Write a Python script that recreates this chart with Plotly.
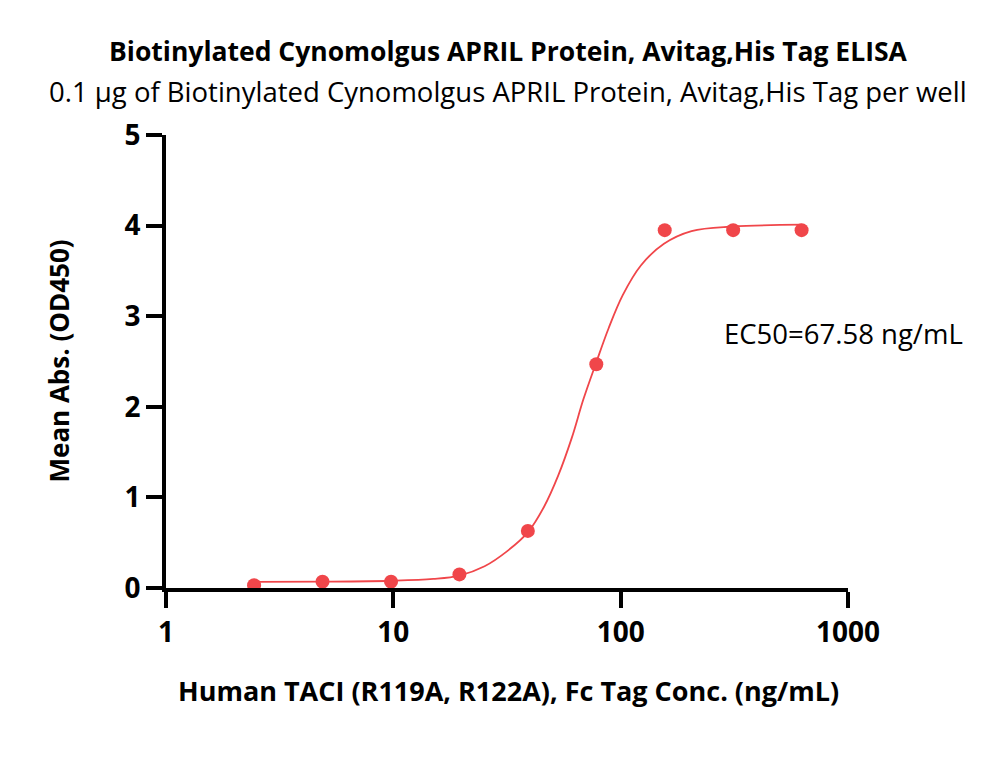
import plotly.graph_objects as go

# measured points (ng/mL, OD450)
conc = [2.44, 4.88, 9.77, 19.53, 39.06, 78.13, 156.25, 312.5, 625]
od450 = [0.03, 0.07, 0.07, 0.15, 0.63, 2.47, 3.95, 3.95, 3.95]

# fitted curve
fit_x = [2.44, 5.0, 10.0, 15.0, 19.5, 25.2, 31.8, 39.2, 46.1, 53.1, 61.0,
         68.5, 78.1, 88.6, 102, 122.7, 155, 205, 312, 625]
fit_y = [0.068, 0.07, 0.08, 0.10, 0.137, 0.24, 0.41, 0.62, 0.90, 1.24, 1.66,
         2.08, 2.49, 2.87, 3.23, 3.56, 3.80, 3.94, 3.99, 4.01]

x_ticks = [1, 10, 100, 1000]
y_ticks = [0, 1, 2, 3, 4, 5]

RED = '#F0464A'
FONT = 'Open Sans, sans-serif'

fig = go.Figure()
fig.add_trace(go.Scatter(x=fit_x, y=fit_y, mode='lines', line_shape='spline',
                         line=dict(color=RED, width=1.8), showlegend=False))
fig.add_trace(go.Scatter(x=conc, y=od450, mode='markers',
                         marker=dict(color=RED, size=14), showlegend=False))

axis_style = dict(showline=True, linecolor='black', linewidth=4,
                  ticks='outside', ticklen=16, tickwidth=4, tickcolor='black',
                  showgrid=False, zeroline=False,
                  tickfont=dict(family=FONT, size=28, color='black', weight='bold'))

fig.update_xaxes(type='log', range=[0, 3], tickvals=x_ticks,
                 ticktext=[str(v) for v in x_ticks], **axis_style)
fig.update_yaxes(range=[0, 5], tickvals=y_ticks, **axis_style)

fig.update_layout(
    width=1000, height=781,
    margin=dict(l=158, r=160, t=127, b=201),
    plot_bgcolor='white', paper_bgcolor='white',
    annotations=[
        dict(text='<b>Biotinylated Cynomolgus APRIL Protein, Avitag,His Tag ELISA</b>',
             xref='paper', yref='paper', x=0.502, y=1.0, yshift=84,
             yanchor='middle', showarrow=False,
             font=dict(family=FONT, size=26.5, color='black')),
        dict(text='0.1 µg of Biotinylated Cynomolgus APRIL Protein, Avitag,His Tag per well',
             xref='paper', yref='paper', x=0.502, y=1.0, yshift=44,
             yanchor='middle', showarrow=False,
             font=dict(family=FONT, size=27.5, color='black')),
        dict(text='<b>Human TACI (R119A, R122A), Fc Tag Conc. (ng/mL)</b>',
             xref='paper', yref='paper', x=0.502, y=0, yshift=-102,
             yanchor='middle', showarrow=False,
             font=dict(family=FONT, size=27, color='black')),
        dict(text='<b>Mean Abs. (OD450)</b>',
             xref='paper', yref='paper', x=0, xshift=-108, y=0.5,
             xanchor='center', yanchor='middle', textangle=-90,
             showarrow=False, font=dict(family=FONT, size=26, color='black')),
        dict(text='EC50=67.58 ng/mL', xref='paper', yref='y', x=1.1716, y=2.81,
             xanchor='right', yanchor='middle', showarrow=False,
             font=dict(family=FONT, size=27.5, color='black')),
    ],
)

fig.write_html('out.html')
